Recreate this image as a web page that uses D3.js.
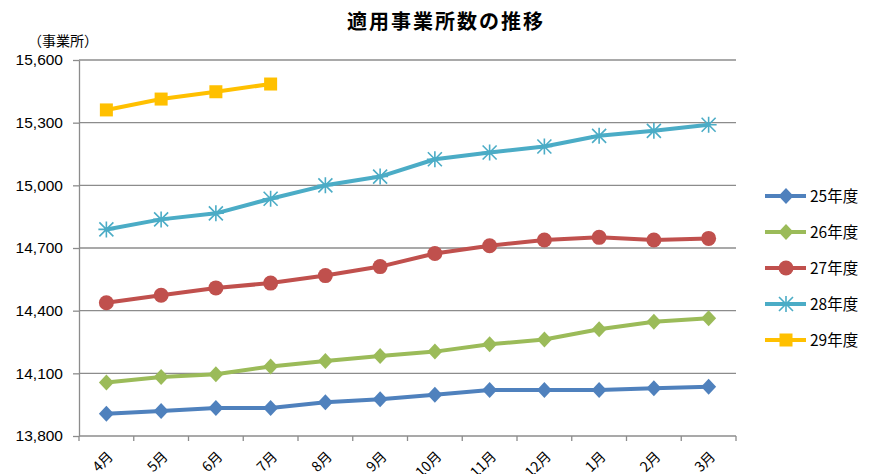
<!DOCTYPE html>
<html>
<head>
<meta charset="utf-8">
<title>適用事業所数の推移</title>
<script src="https://d3js.org/d3.v7.min.js"></script>
<style>
  html, body { margin: 0; padding: 0; background: #fff; overflow: hidden; }
  svg { display: block; font-family: Lato, "Noto Sans CJK JP", sans-serif; }
  .grid line { stroke: #8c8c8c; stroke-width: 1.3; }
  .axis path, .axis line { stroke: #8c8c8c; stroke-width: 1.3; }
  .axis text { fill: #000; }
</style>
</head>
<body>
<svg id="chart" width="872" height="474"></svg>
<script>
const months = ['4月', '5月', '6月', '7月', '8月', '9月', '10月', '11月', '12月', '1月', '2月', '3月'];
const yTicks = [13800, 14100, 14400, 14700, 15000, 15300, 15600];

const s25 = [13906, 13920, 13934, 13934, 13962, 13976, 13997, 14020, 14020, 14020, 14028, 14036];
const s26 = [14056, 14082, 14096, 14133, 14159, 14183, 14204, 14239, 14262, 14311, 14347, 14364];
const s27 = [14438, 14474, 14509, 14532, 14568, 14611, 14674, 14711, 14738, 14751, 14738, 14746];
const s28 = [14789, 14837, 14866, 14936, 15000, 15042, 15125, 15157, 15186, 15237, 15261, 15290];
const s29 = [15361, 15413, 15448, 15485];

const seriesNames = ['25年度', '26年度', '27年度', '28年度', '29年度'];
const seriesColors = ['#4F81BD', '#9BBB59', '#C0504D', '#4BACC6', '#FFC000'];
const seriesMarkers = ['diamond', 'diamond', 'circle', 'asterisk', 'square'];
const seriesValues = [s25, s26, s27, s28, s29];

const svg = d3.select('#chart');
const plot = { left: 79, right: 736, top: 60, bottom: 436 };

const x = d3.scaleBand().domain(months).range([plot.left, plot.right]);
const y = d3.scaleLinear().domain([13800, 15600]).range([plot.bottom, plot.top]);

// title
svg.append('text')
  .attr('x', 446).attr('y', 29)
  .attr('text-anchor', 'middle')
  .style('font-family', '"Noto Sans CJK JP", sans-serif')
  .style('font-weight', 'bold')
  .style('font-size', '20px')
  .style('letter-spacing', '2px')
  .text('適用事業所数の推移');

svg.append('text')
  .attr('x', 28).attr('y', 46)
  .style('font-family', '"Noto Sans CJK JP", sans-serif')
  .style('font-size', '14px')
  .text('（事業所）');

// gridlines
svg.append('g').attr('class', 'grid')
  .selectAll('line').data(yTicks.slice(1)).join('line')
  .attr('x1', plot.left).attr('x2', plot.right)
  .attr('y1', d => y(d)).attr('y2', d => y(d));

// y axis
const yAxis = svg.append('g').attr('class', 'axis')
  .attr('transform', `translate(${plot.left},0)`)
  .call(d3.axisLeft(y).tickValues(yTicks).tickSize(6).tickSizeOuter(0).tickFormat(d3.format(',')));
yAxis.selectAll('text').style('font-size', '15.5px').attr('x', -16);

// x axis with ticks at band edges
const xAxis = svg.append('g').attr('class', 'axis')
  .attr('transform', `translate(0,${plot.bottom})`)
  .call(d3.axisBottom(x).tickSize(0).tickSizeOuter(0));
xAxis.select('.domain').attr('d', `M${plot.left},0H${plot.right}`);
xAxis.selectAll('.tick text')
  .style('font-family', '"Noto Sans CJK JP", sans-serif')
  .style('font-size', '14px')
  .attr('text-anchor', 'end')
  .attr('y', 0)
  .attr('dy', '0.35em')
  .attr('transform', 'translate(4,18) rotate(-45)');
const edges = months.map(m => x(m)).concat([plot.right]);
xAxis.append('g').selectAll('line').data(edges).join('line')
  .attr('x1', d => d).attr('x2', d => d).attr('y1', 0).attr('y2', 5)
  .attr('stroke', '#8c8c8c').attr('stroke-width', 1.3);

function drawMarker(g, type, color) {
  if (type === 'diamond') {
    g.append('path').attr('d', 'M0,-8L7.5,0L0,8L-7.5,0Z').attr('fill', color);
  } else if (type === 'circle') {
    g.append('circle').attr('r', 7.5).attr('fill', color);
  } else if (type === 'square') {
    g.append('rect').attr('x', -6.5).attr('y', -6.5).attr('width', 13).attr('height', 13).attr('fill', color);
  } else if (type === 'asterisk') {
    g.append('path')
      .attr('d', 'M-7,-7L7,7M-7,7L7,-7M0,-8V8M-8,0H8')
      .attr('stroke', color).attr('stroke-width', 1.6).attr('fill', 'none');
  }
}

const line = d3.line()
  .x((d, i) => x(months[i]) + x.bandwidth() / 2)
  .y(d => y(d));

seriesValues.forEach((vals, si) => {
  const g = svg.append('g');
  g.append('path')
    .attr('d', line(vals))
    .attr('fill', 'none')
    .attr('stroke', seriesColors[si])
    .attr('stroke-width', 4)
    .attr('stroke-linejoin', 'round');
  vals.forEach((v, i) => {
    const m = g.append('g')
      .attr('transform', `translate(${x(months[i]) + x.bandwidth() / 2},${y(v)})`);
    drawMarker(m, seriesMarkers[si], seriesColors[si]);
  });
});

// legend
const legend = svg.append('g');
seriesNames.forEach((name, i) => {
  const ly = 196 + i * 36;
  const row = legend.append('g').attr('transform', `translate(0,${ly})`);
  row.append('line')
    .attr('x1', 765).attr('x2', 806).attr('y1', 0).attr('y2', 0)
    .attr('stroke', seriesColors[i]).attr('stroke-width', 4);
  const m = row.append('g').attr('transform', 'translate(786,0)');
  drawMarker(m, seriesMarkers[i], seriesColors[i]);
  row.append('text')
    .attr('x', 810).attr('y', 0).attr('dy', '0.36em')
    .style('font-family', '"Noto Sans CJK JP", sans-serif')
    .style('font-size', '15.5px')
    .text(name);
});
</script>
</body>
</html>
